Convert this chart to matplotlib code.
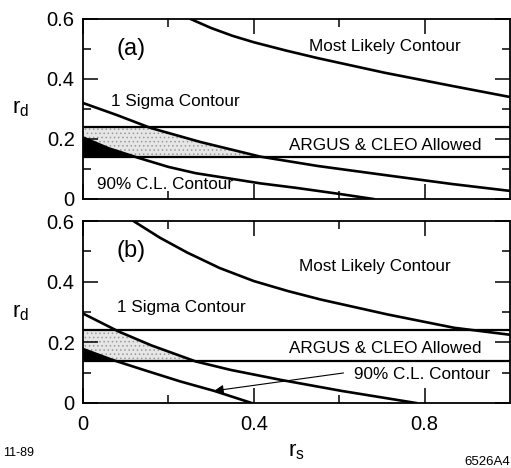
import numpy as np
import matplotlib
matplotlib.use("Agg")
import matplotlib.pyplot as plt
from matplotlib.patches import Rectangle

plt.rcParams['font.family'] = ['Liberation Sans', 'DejaVu Sans']
plt.rcParams['mathtext.default'] = 'regular'
plt.rcParams['hatch.linewidth'] = 0.6

# ARGUS & CLEO allowed band (r_d limits)
band_lo, band_hi = 0.14, 0.24

# panel (a) contours, (r_s, r_d)
a_likely_rs = [0.252, 0.30, 0.35, 0.40, 0.475, 0.55, 0.706, 0.864, 1.0]
a_likely_rd = [0.60, 0.570, 0.544, 0.5225, 0.495, 0.4695, 0.421, 0.377, 0.340]
a_sigma_rs = [0.0, 0.079, 0.158, 0.275, 0.416, 0.55, 0.706, 0.864, 1.0]
a_sigma_rd = [0.32, 0.28, 0.237, 0.19, 0.141, 0.11, 0.08, 0.05, 0.027]
a_cl90_rs = [0.0, 0.06, 0.13, 0.20, 0.264, 0.416, 0.50, 0.60, 0.68]
a_cl90_rd = [0.205, 0.169, 0.137, 0.107, 0.086, 0.052, 0.037, 0.017, 0.0]

# panel (b) contours
b_likely_rs = [0.118, 0.18, 0.244, 0.32, 0.40, 0.48, 0.557, 0.713, 0.869, 1.0]
b_likely_rd = [0.60, 0.545, 0.496, 0.445, 0.402, 0.369, 0.341, 0.292, 0.248, 0.225]
b_sigma_rs = [0.0, 0.083, 0.16, 0.264, 0.346, 0.464, 0.605, 0.78]
b_sigma_rd = [0.295, 0.236, 0.19, 0.137, 0.109, 0.076, 0.04, 0.0]
b_cl90_rs = [0.0, 0.067, 0.14, 0.228, 0.307, 0.395]
b_cl90_rd = [0.178, 0.143, 0.11, 0.071, 0.04, 0.0]

panels = [
    dict(tag='(a)', likely=(a_likely_rs, a_likely_rd), sigma=(a_sigma_rs, a_sigma_rd),
         cl90=(a_cl90_rs, a_cl90_rd), pos=[83/511, 1-199/468, 427/511, 180/468],
         likely_xy=(0.706, 0.508), sigma_xy=(0.216, 0.324), cl_xy=(0.193, 0.047)),
    dict(tag='(b)', likely=(b_likely_rs, b_likely_rd), sigma=(b_sigma_rs, b_sigma_rd),
         cl90=(b_cl90_rs, b_cl90_rd), pos=[83/511, 1-403/468, 427/511, 182/468],
         likely_xy=(0.684, 0.449), sigma_xy=(0.23, 0.315), cl_xy=(0.795, 0.093)),
]

fig = plt.figure(figsize=(5.11, 4.68), dpi=100)

for i, p in enumerate(panels):
    ax = fig.add_axes(p['pos'])
    ax.set_xlim(0, 1.0)
    ax.set_ylim(0, 0.6)

    band = Rectangle((0, band_lo), 1.0, band_hi - band_lo, transform=ax.transData)
    # dotted part: band below the 1 sigma contour
    f1 = ax.fill_between(p['sigma'][0], 0, p['sigma'][1], facecolor='#e6e6e6',
                         edgecolor='#9a9a9a', hatch='....', linewidth=0)
    f1.set_clip_path(band)
    # black part: band below the 90% C.L. contour
    f2 = ax.fill_between(p['cl90'][0], 0, p['cl90'][1], facecolor='black', linewidth=0)
    f2.set_clip_path(band)

    ax.axhline(band_hi, color='black', lw=1.6)
    ax.axhline(band_lo, color='black', lw=1.6)
    for key in ('likely', 'sigma', 'cl90'):
        ax.plot(p[key][0], p[key][1], color='black', lw=1.9)

    ax.text(0.113, 0.50, p['tag'], fontsize=17, ha='center', va='center')
    ax.text(*p['likely_xy'], 'Most Likely Contour', fontsize=12.3, ha='center', va='center')
    ax.text(*p['sigma_xy'], '1 Sigma Contour', fontsize=12.3, ha='center', va='center')
    ax.text(0.707, 0.18, 'ARGUS & CLEO Allowed', fontsize=12.3, ha='center', va='center')
    ax.text(*p['cl_xy'], '90% C.L. Contour', fontsize=12.3, ha='center', va='center')

    ax.set_yticks([0, 0.2, 0.4, 0.6])
    ax.set_yticks([0.1, 0.3, 0.5], minor=True)
    ax.set_yticklabels(['0', '0.2', '0.4', '0.6'])
    ax.set_xticks([0, 0.4, 0.8])
    ax.set_xticks([0.2, 0.6], minor=True)
    if i == 1:
        ax.set_xticklabels(['0', '0.4', '0.8'])
    else:
        ax.set_xticklabels([])
    ax.tick_params(which='both', direction='in', top=True, right=True, width=1.1,
                   labelsize=14.5)
    ax.tick_params(which='major', length=11, pad=6)
    ax.tick_params(axis='x', which='major', pad=9)
    ax.tick_params(which='minor', length=6)
    for s in ax.spines.values():
        s.set_linewidth(1.3)

    ax.set_ylabel(r'$r_d$', rotation=0, fontsize=16, ha='center', va='center')
    ax.yaxis.set_label_coords(-0.147, 0.50)

    if i == 1:
        ax.annotate('', xy=(0.307, 0.04), xytext=(0.61, 0.099),
                    arrowprops=dict(arrowstyle='-|>', color='black', lw=0.8,
                                    mutation_scale=14, shrinkA=0, shrinkB=0))

fig.text(296/511, 1-452/468, r'$r_s$', fontsize=16, ha='center', va='center')
fig.text(3/511, 1-453/468, '11-89', fontsize=9, ha='left', va='center')
fig.text(510/511, 1-462/468, '6526A4', fontsize=9.5, ha='right', va='center')

fig.savefig('out.png', dpi=100)
